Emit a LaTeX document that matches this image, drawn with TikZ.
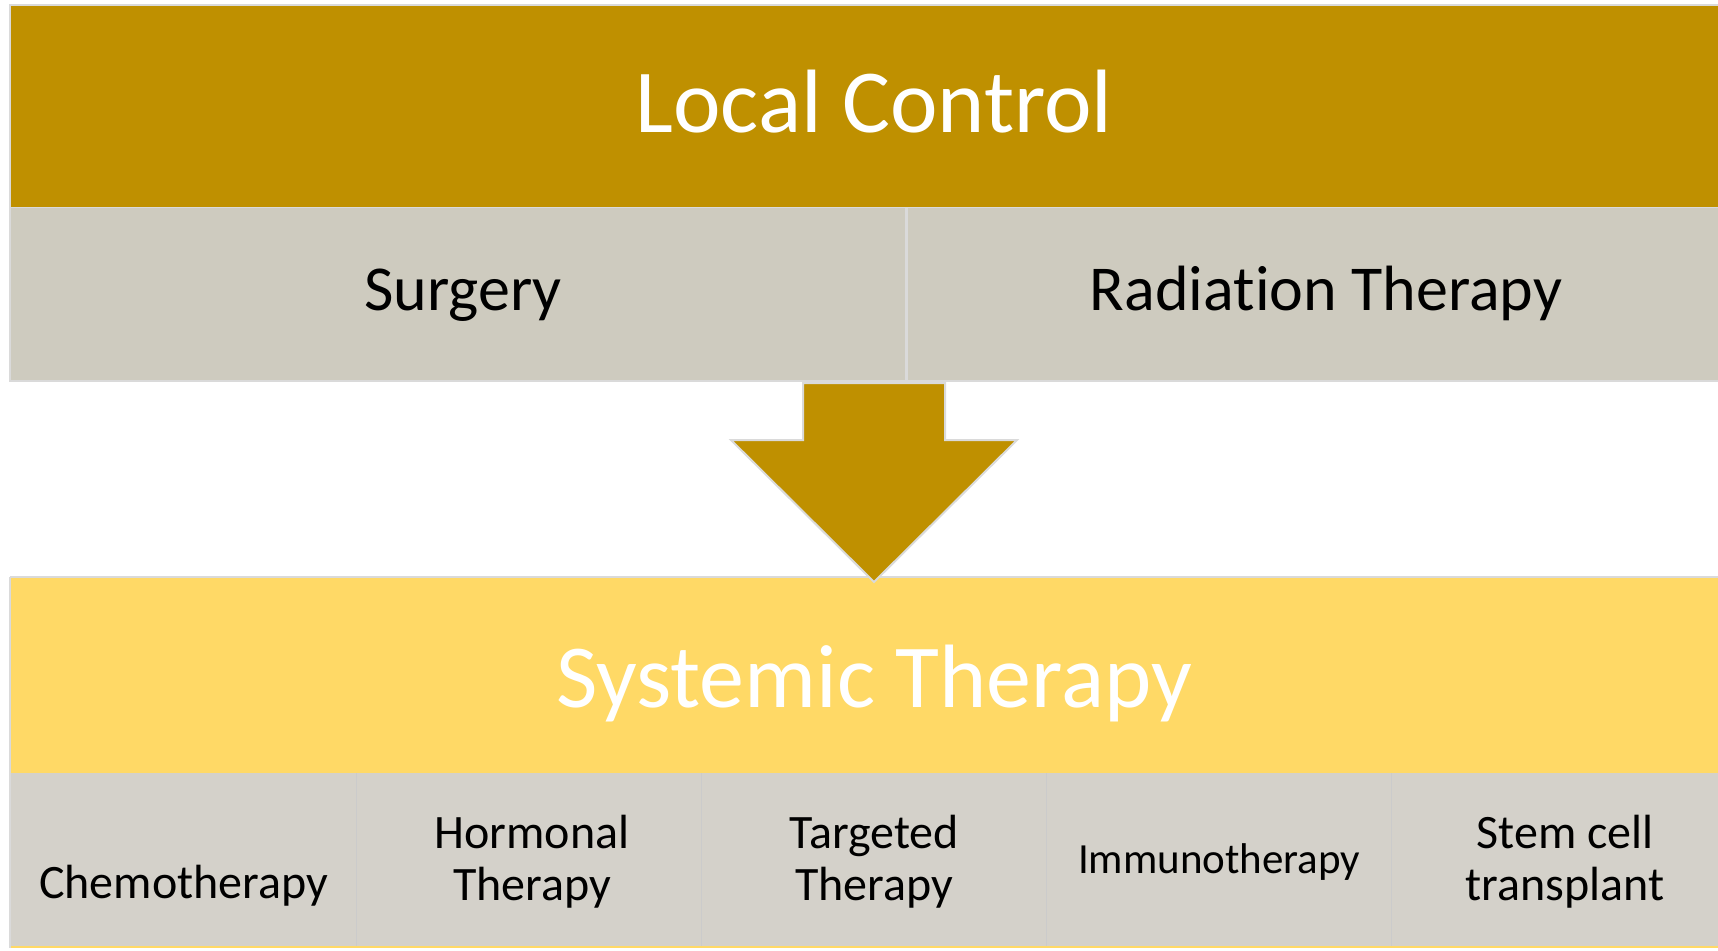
\documentclass[tikz,border=0pt]{standalone}
\usepackage{fontspec}
\setmainfont{Carlito}[Ligatures=NoCommon]
\definecolor{gold}{HTML}{BF9000}
\definecolor{lightgold}{HTML}{FFD966}
\definecolor{graytop}{HTML}{CECBBF}
\definecolor{graybottom}{HTML}{D4D1CA}
\definecolor{framegray}{HTML}{DADADA}
\definecolor{dividergray}{HTML}{CBCBCB}
\tikzset{
  band/.style={rectangle, inner sep=0pt, outer sep=0pt, anchor=north west},
  headtext/.style={anchor=base, inner sep=0pt, text=white, font=\fontsize{90}{96}\selectfont},
  subtext/.style={anchor=base, inner sep=0pt, text=black, font=\fontsize{64}{70}\selectfont},
  celltext/.style={anchor=base, inner sep=0pt, text=black, align=center, font=\fontsize{48}{52}\selectfont},
}
\begin{document}
\begin{tikzpicture}[x=1pt,y=-1pt]
\useasboundingbox (0,0) rectangle (1718,950);
\clip (0,0) rectangle (1718,950);

% ---- local control group ----
\node[band, fill=gold, minimum width=1726pt, minimum height=201pt] (local) at (11,6) {};
\node[band, fill=graytop, minimum width=894pt, minimum height=173pt] (surgery) at (11,207) {};
\node[band, fill=graytop, minimum width=832pt, minimum height=173pt] (radiation) at (905,207) {};
\draw[framegray, line width=2pt] ([shift={(-1,-1)}]local.north west) rectangle ([shift={(1,1)}]radiation.south east);
\draw[framegray, line width=1pt] (surgery.north west) -- (radiation.north east);
\draw[framegray, line width=3pt] ([xshift=1pt]surgery.north east) -- ([xshift=1pt]surgery.south east);

\node[headtext] (localtxt) at (874,132) {Local Control};
\node[subtext] (surgerytxt) at (463,310) {Surgery};
\node[subtext] (radiationtxt) at (1326,310) {Radiation Therapy};

% ---- systemic therapy group ----
\node[band, fill=lightgold, minimum width=1726pt, minimum height=195pt] (systemic) at (11,578) {};
\foreach \i/\nm in {0/chemo,1/hormonal,2/targeted,3/immuno,4/stemcell}{
  \node[band, fill=graybottom, minimum width=345.2pt, minimum height=175pt] (\nm) at ({11+\i*345.2},773) {};
}
\draw[framegray, line width=2pt] ([shift={(-1,-1)}]systemic.north west) -- ([shift={(1,-1)}]systemic.north east);
\draw[framegray, line width=2pt] ([shift={(-1,-1)}]systemic.north west) -- ([xshift=-1pt]chemo.south west);
\foreach \a in {chemo,hormonal,targeted,immuno}{
  \draw[dividergray, line width=1pt] (\a.north east) -- (\a.south east);
}
\draw[lightgold, line width=2pt] ([yshift=1pt]chemo.south west) -- ([yshift=1pt]stemcell.south east);

\node[headtext] (systemictxt) at (874,707) {Systemic Therapy};
\node[celltext] (chemotxt) at (183.6,898) {Chemotherapy};
\node[celltext] (hormonaltxt) at (532,900) {Hormonal\\Therapy};
\node[celltext] (targetedtxt) at (874,900) {Targeted\\Therapy};
\node[celltext, font=\fontsize{43}{52}\selectfont] (immunotxt) at (1219.2,873) {Immunotherapy};
\node[celltext] (stemcelltxt) at (1565,900) {Stem cell\\transplant};

% ---- downward arrow from the local group to the systemic group ----
\coordinate (shafttop) at (874,383);
\coordinate (tip) at (874,582);
\draw[fill=gold, draw=framegray, line width=2pt, line join=miter]
  ([xshift=-71pt]shafttop) -- ([xshift=71pt]shafttop)
  -- ++(0,57) -- ++(72,0) -- (tip) -- ++(-143,-142) -- ++(72,0) -- cycle;
\end{tikzpicture}
\end{document}
